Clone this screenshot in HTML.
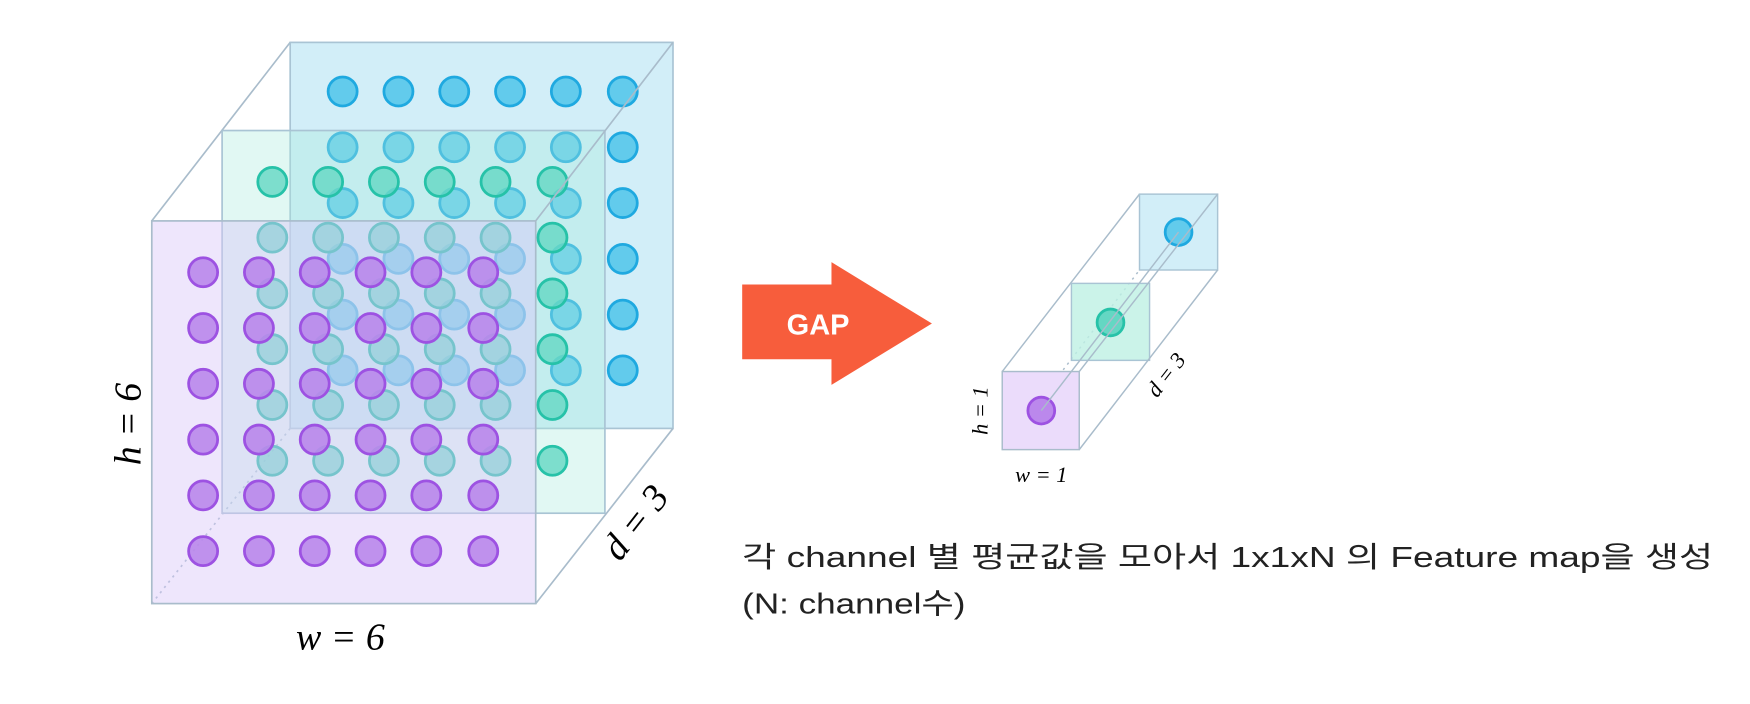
<!DOCTYPE html>
<html><head><meta charset="utf-8"><style>
html,body{margin:0;padding:0;background:#fff;}
svg{display:block;}
text{font-family:"Liberation Serif","DejaVu Serif",serif;}
.k{font-family:"Liberation Sans","Noto Sans CJK KR",sans-serif;font-size:26px;fill:#222;}
</style></head><body>
<svg width="1750" height="704" viewBox="0 0 1568 631" preserveAspectRatio="none" xmlns="http://www.w3.org/2000/svg">
<defs>
<g id="rb"><circle cx="0" cy="0" r="13"/><circle cx="50" cy="0" r="13"/><circle cx="100" cy="0" r="13"/><circle cx="150" cy="0" r="13"/><circle cx="200" cy="0" r="13"/><circle cx="251" cy="0" r="13"/></g>
<g id="grid"><use href="#rb" y="0"/><use href="#rb" y="50"/><use href="#rb" y="100"/><use href="#rb" y="150"/><use href="#rb" y="200"/><use href="#rb" y="250"/></g>
</defs>
<g stroke="#a9bccb" stroke-width="1.5" fill="none">
<line x1="136" y1="198" x2="260" y2="38"/>
<line x1="136" y1="541" x2="260" y2="384" stroke-dasharray="2,4"/>
</g>
<rect x="260" y="38" width="343" height="346" fill="#d2eef8" stroke="#a9c4d4" stroke-width="1.5"/>
<use href="#grid" x="307" y="82" fill="#62cbec" stroke="#1fa9e0" stroke-width="2.5"/>
<rect x="199" y="117" width="343" height="343" fill="rgba(170,235,220,0.35)" stroke="#a9c4d4" stroke-width="1.5"/>
<use href="#grid" x="244" y="163" fill="rgba(100,215,195,0.8)" stroke="#26c2a8" stroke-width="2.5"/>
<rect x="136" y="198" width="344" height="343" fill="rgba(218,200,248,0.45)" stroke="#a9bccb" stroke-width="1.5"/>
<use href="#grid" x="182" y="244" fill="rgba(185,135,235,0.9)" stroke="#9d52e2" stroke-width="2.5"/>
<g stroke="#a9bccb" stroke-width="1.5" fill="none">
<line x1="480" y1="198" x2="603" y2="38"/>
<line x1="480" y1="541" x2="603" y2="384"/>
</g>
<text x="0" y="0" font-size="34" font-style="italic" transform="translate(126,380) rotate(-90)" text-anchor="middle">h = 6</text>
<text x="305" y="582" font-size="34" font-style="italic" text-anchor="middle">w = 6</text>
<text x="0" y="0" font-size="34" font-style="italic" transform="translate(578,475) rotate(-52)" text-anchor="middle">d = 3</text>
<polygon points="665,255 745,255 745,235 835,290 745,345 745,322 665,322" fill="#f75d3c"/>
<text x="733" y="300" font-weight="bold" font-size="26" fill="#fff" text-anchor="middle" style="font-family:'Liberation Sans',sans-serif">GAP</text>
<g stroke="#a9bccb" stroke-width="1.3" fill="none">
<line x1="898" y1="333" x2="1021" y2="174"/>
<line x1="898" y1="403" x2="1021" y2="242" stroke-dasharray="2,4"/>
</g>
<rect x="1021" y="174" width="70" height="68" fill="#d2eef8" stroke="#a9c4d4" stroke-width="1.3"/>
<circle cx="1056" cy="208" r="12" fill="#62cbec" stroke="#1fa9e0" stroke-width="2.5"/>
<rect x="960" y="254" width="70" height="69" fill="rgba(190,240,228,0.8)" stroke="#a9c4d4" stroke-width="1.3"/>
<circle cx="995" cy="289" r="12" fill="#64d7c3" stroke="#26c2a8" stroke-width="2.5"/>
<rect x="898" y="333" width="69" height="70" fill="#ebdcfb" stroke="#a9bccb" stroke-width="1.3"/>
<circle cx="933" cy="368" r="12" fill="#bb88ec" stroke="#9d52e2" stroke-width="2.5"/>
<g stroke="#a9bccb" stroke-width="1.3" fill="none">
<line x1="967" y1="333" x2="1091" y2="174"/>
<line x1="967" y1="403" x2="1091" y2="242"/>
<line x1="933" y1="368" x2="1056" y2="208"/>
</g>
<text font-size="20" font-style="italic" transform="translate(885,368) rotate(-90)" text-anchor="middle">h = 1</text>
<text x="933" y="432" font-size="20" font-style="italic" text-anchor="middle">w = 1</text>
<text font-size="20" font-style="italic" transform="translate(1050,340) rotate(-52)" text-anchor="middle">d = 3</text>
<text class="k" x="665" y="508" textLength="870" lengthAdjust="spacingAndGlyphs">각 channel 별 평균값을 모아서 1x1xN 의 Feature map을 생성</text>
<text class="k" x="665" y="550" textLength="200" lengthAdjust="spacingAndGlyphs">(N: channel수)</text>
</svg>
</body></html>
